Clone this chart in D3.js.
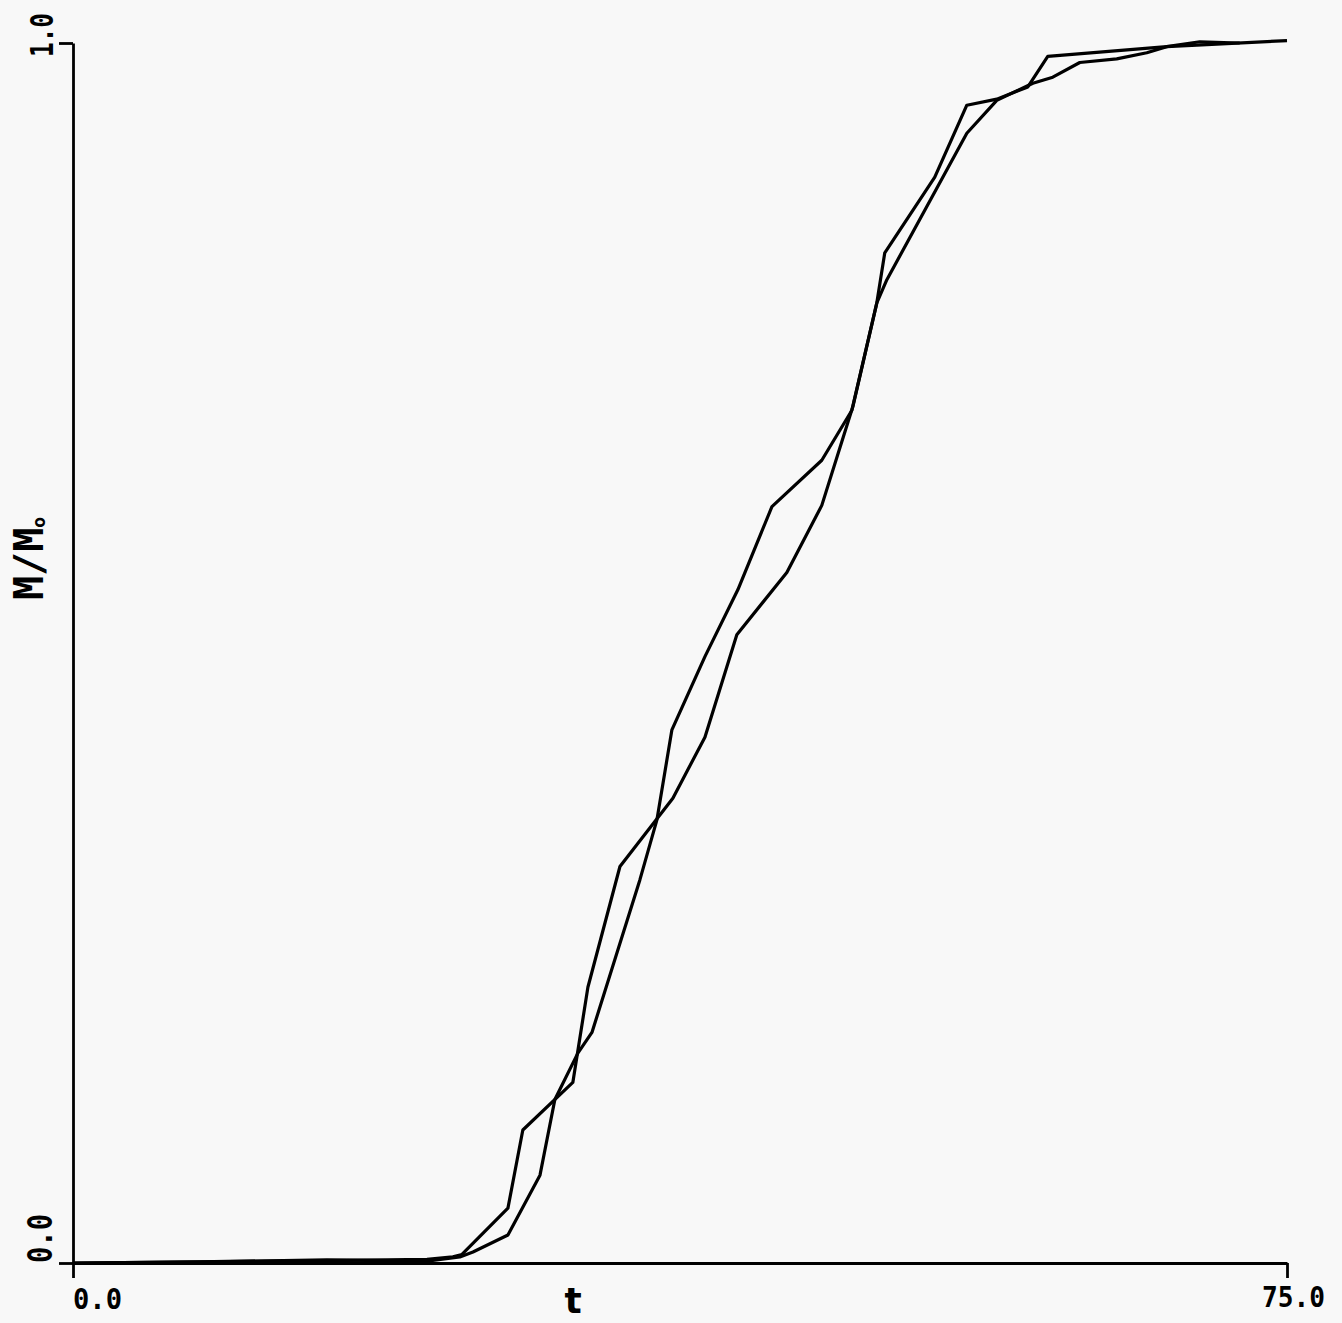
<!DOCTYPE html>
<html>
<head>
<meta charset="utf-8">
<script src="https://cdn.jsdelivr.net/npm/d3@7"></script>
<style>
    body { margin: 0; background: #f8f8f8; }
    svg { display: block; background: #f8f8f8; }
    .curve { fill: none; stroke: #000; stroke-width: 3.2; stroke-linejoin: round; }
    .axis path, .axis line { stroke: #000; stroke-width: 2.8; }
    .lbl { font-family: "DejaVu Sans Mono", monospace; font-weight: bold; fill: #000; }
</style>
</head>
<body>
<div id="chart"></div>
<script>
// curve 1 (t, M/Mo)
const serieA_t = [0, 7.84, 15.69, 21.87, 23.47, 24.03, 26.87, 27.79, 30.88, 31.81, 33.79, 37.06, 39.04, 41.01, 44.10, 46.26, 48.18, 49.66, 50.15, 53.24, 55.22, 57.07, 58.99, 60.22, 67.57, 75.0];
const serieA_m = [0, 0.001, 0.002, 0.003, 0.005, 0.007, 0.045, 0.109, 0.148, 0.226, 0.325, 0.381, 0.431, 0.515, 0.566, 0.621, 0.702, 0.787, 0.828, 0.890, 0.949, 0.954, 0.964, 0.989, 0.997, 1.002];

// curve 2
const serieB_t = [0, 7.84, 15.69, 21.87, 23.9, 24.71, 26.87, 28.85, 29.77, 31.19, 32.06, 35.02, 36.07, 37.0, 39.04, 41.08, 43.18, 46.26, 48.12, 49.66, 50.28, 55.22, 57.07, 59.30, 60.53, 62.20, 64.48, 66.34, 67.57, 69.61, 72.08];
const serieB_m = [0, 0.001, 0.0025, 0.0015, 0.005, 0.009, 0.023, 0.072, 0.134, 0.172, 0.189, 0.314, 0.363, 0.437, 0.497, 0.552, 0.620, 0.658, 0.699, 0.787, 0.806, 0.926, 0.953, 0.967, 0.972, 0.984, 0.987, 0.992, 0.997, 1.001, 1.0];

const xTicks = [0, 75];
const xTickLabels = ["0.0", "75.0"];
const yTicks = [0, 1];
const yTickLabels = ["0.0", "1.0"];

const W = 1342, H = 1323;
const margin = { top: 43, right: 55, bottom: 60, left: 73 };

const svg = d3.select("#chart").append("svg")
    .attr("width", W)
    .attr("height", H);

const x = d3.scaleLinear().domain([0, 75]).range([margin.left, W - margin.right]);
const y = d3.scaleLinear().domain([0, 1]).range([H - margin.bottom, margin.top]);

// assen
svg.append("g").attr("class", "axis")
    .attr("transform", `translate(0,${y(0)})`)
    .call(d3.axisBottom(x).tickValues(xTicks).tickSize(15).tickSizeOuter(0).tickFormat(""));
svg.append("g").attr("class", "axis")
    .attr("transform", `translate(${x(0)},0)`)
    .call(d3.axisLeft(y).tickValues(yTicks).tickSize(14).tickSizeOuter(0).tickFormat(""));

// tick labels x
svg.append("text").attr("class", "lbl")
    .attr("x", x(0)).attr("y", y(0) + 46)
    .attr("font-size", 28)
    .attr("textLength", 49).attr("lengthAdjust", "spacingAndGlyphs")
    .text(xTickLabels[0]);
svg.append("text").attr("class", "lbl")
    .attr("x", x(75) - 25).attr("y", y(0) + 44)
    .attr("font-size", 29)
    .attr("textLength", 63).attr("lengthAdjust", "spacingAndGlyphs")
    .text(xTickLabels[1]);

// tick labels y (gedraaid)
svg.append("text").attr("class", "lbl")
    .attr("transform", `translate(52,${y(0)}) rotate(-90)`)
    .attr("font-size", 33)
    .attr("textLength", 49).attr("lengthAdjust", "spacingAndGlyphs")
    .text(yTickLabels[0]);
svg.append("text").attr("class", "lbl")
    .attr("transform", `translate(53,${y(1) + 14}) rotate(-90)`)
    .attr("font-size", 32)
    .attr("textLength", 44).attr("lengthAdjust", "spacingAndGlyphs")
    .text(yTickLabels[1]);

// as titels
svg.append("text")
    .attr("x", x(30.9)).attr("y", y(0) + 50)
    .attr("text-anchor", "middle")
    .attr("font-family", "DejaVu Sans, sans-serif")
    .attr("font-weight", "bold")
    .attr("font-size", 36)
    .text("t");

const ylab = svg.append("text").attr("class", "lbl")
    .attr("transform", `translate(43,600) rotate(-90)`)
    .attr("font-size", 40);
ylab.append("tspan").text("M/M");
ylab.append("tspan").attr("font-size", 18).attr("dy", 2).text("o");

// curves
const line = d3.line().x(d => x(d[0])).y(d => y(d[1]));
const dataA = serieA_t.map((t, i) => [t, serieA_m[i]]);
const dataB = serieB_t.map((t, i) => [t, serieB_m[i]]);

svg.append("path").datum(dataA).attr("class", "curve").attr("d", line);
svg.append("path").datum(dataB).attr("class", "curve").attr("d", line);
</script>
</body>
</html>
